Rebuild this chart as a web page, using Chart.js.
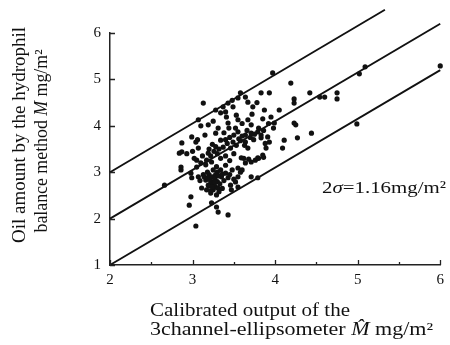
<!DOCTYPE html>
<html>
<head>
<meta charset="utf-8">
<script src="https://cdn.jsdelivr.net/npm/chart.js@4.4.1/dist/chart.umd.min.js"></script>
<style>
  html, body { margin: 0; padding: 0; background: #fff; }
</style>
</head>
<body>
<canvas id="chart" width="450" height="345"></canvas>
<script>
// measured points (calibrated output, hydrophil balance)
const pointX = [3.97, 4.19, 3.83, 3.93, 3.58, 3.64, 3.13, 3.67, 3.73, 3.43, 3.49, 3.37, 3.28, 3.34, 3.07, 3.87, 4.05, 4.23, 3.53, 3.55,
  3.41, 3.43, 3.67, 3.71, 3.95, 3.99, 4.23, 4.27, 4.11, 4.09, 3.19, 3.31, 2.99, 3.04, 2.87, 2.87, 3.07, 3.28, 3.34, 3.37,
  3.55, 3.64, 3.71, 3.79, 3.83, 3.91, 3.93, 3.49, 3.46, 3.64, 3.67, 3.89, 3.85, 3.79, 3.59, 3.64, 3.71, 3.76, 3.55, 3.58,
  3.19, 3.17, 3.16, 3.23, 3.05, 3.05, 2.86, 2.86, 2.98, 2.99, 3.07, 3.16, 3.19, 3.23, 3.28, 3.25, 3.31, 3.17, 3.11, 3.22,
  3.29, 3.40, 3.43, 3.46, 3.47, 3.52, 3.55, 3.71, 3.79, 2.66, 2.98, 2.96, 3.23, 3.29, 3.31, 3.43, 3.04, 2.84,
  4.23, 4.42, 4.54, 4.60, 4.75, 4.75, 5.09, 5.02, 6.00, 4.99, 4.44, 4.25,
  3.20, 3.24, 3.27, 3.30, 3.33, 3.22, 3.26, 3.20, 3.35, 3.38, 3.30, 3.25, 3.18, 3.34, 3.28, 3.22, 3.36, 3.32,
  3.22, 3.26, 3.28, 3.24, 3.30, 3.20, 3.34, 3.32,
  3.45, 3.50, 3.56, 3.60, 3.66, 3.70, 3.75, 3.80, 3.86, 3.40, 3.38, 3.44, 3.52,
  3.40, 3.45, 3.50, 3.62, 3.68, 3.80, 3.86,
  3.45, 3.50, 3.55, 3.48, 3.40, 3.60, 3.12, 3.10, 3.13, 3.02, 3.06, 3.15, 3.10, 3.25, 3.40, 3.48, 3.55, 3.78, 3.85, 3.92,
  3.98, 3.60, 3.72,
  3.21, 3.27, 3.24, 3.31, 3.36, 3.18, 3.29, 3.42, 3.58, 3.63, 3.74, 3.83, 3.88, 3.53, 2.93, 3.00, 3.09, 3.14];
const pointY = [5.14, 4.92, 4.71, 4.71, 4.71, 4.62, 4.49, 4.51, 4.41, 4.49, 4.41, 4.41, 4.34, 4.28, 4.13, 4.34, 4.34, 4.49, 4.23, 4.13,
  4.19, 4.06, 4.13, 4.02, 4.19, 4.06, 4.06, 3.74, 3.69, 3.52, 4.02, 3.95, 3.76, 3.65, 3.63, 3.44, 3.52, 3.84, 3.69, 3.54,
  3.87, 3.80, 3.84, 3.87, 3.80, 3.76, 3.65, 3.65, 3.52, 3.65, 3.52, 3.52, 3.37, 3.31, 3.31, 3.20, 3.22, 3.26, 3.09, 3.00,
  3.41, 3.26, 3.16, 3.22, 3.26, 3.11, 3.11, 3.05, 2.98, 2.88, 2.90, 2.83, 2.72, 2.77, 2.68, 2.62, 2.66, 2.62, 2.66, 2.55,
  2.51, 2.98, 2.88, 2.72, 2.62, 2.79, 2.68, 2.90, 2.88, 2.72, 2.47, 2.29, 2.34, 2.25, 2.14, 2.08, 1.84, 3.41,
  4.58, 4.71, 4.62, 4.62, 4.71, 4.58, 5.27, 5.12, 5.29, 4.04, 3.84, 4.02,
  2.95, 2.90, 2.85, 2.80, 2.75, 2.80, 2.74, 2.70, 2.90, 2.82, 3.00, 3.05, 3.00, 3.05, 2.95, 2.60, 2.65, 2.58,
  3.35, 3.45, 3.55, 3.60, 3.40, 3.50, 3.30, 3.50,
  3.75, 3.80, 3.72, 3.78, 3.90, 3.75, 3.82, 3.95, 3.90, 3.70, 3.85, 3.95, 3.95,
  3.35, 3.25, 3.40, 3.30, 3.28, 3.30, 3.32,
  2.95, 2.85, 2.90, 3.05, 3.15, 3.05, 3.35, 3.20, 2.95, 3.30, 3.70, 3.80, 4.00, 4.10, 4.30, 4.55, 4.60, 4.50, 4.15, 4.05,
  3.95, 4.05, 4.25,
  2.86, 2.78, 2.68, 2.92, 2.96, 2.88, 3.12, 3.62, 3.68, 3.58, 3.70, 3.74, 3.62, 3.58, 3.40, 3.45, 2.82, 2.90];

// regression line and the two 2-sigma bounds
const upperLineX = [2, 5.33];
const upperLineY = [3, 6.5];
const middleLineX = [2, 6];
const middleLineY = [2, 6.2];
const lowerLineX = [2, 6];
const lowerLineY = [1, 5.2];

const xMajorTicks = [2, 3, 4, 5, 6];
const xMinorTicks = [2.5, 3.5, 4.5, 5.5];
const yTicks = [1, 2, 3, 4, 5, 6];

const SERIF = '"Liberation Serif", "DejaVu Serif", serif';

const toXY = (xs, ys) => xs.map((x, i) => ({ x: x, y: ys[i] }));

const lineDataset = (xs, ys) => ({
    type: 'line',
    data: toXY(xs, ys),
    borderColor: '#111',
    borderWidth: 1.9,
    pointRadius: 0,
    fill: false,
    clip: false
});

// draw a line of text made of runs with different styles, stretched to a width
const drawRuns = (ctx, x, y, runs, size, align, width) => {
    let total = 0;
    runs.forEach(r => {
        ctx.font = (r.italic ? 'italic ' : '') + size + 'px ' + SERIF;
        r.w = ctx.measureText(r.t).width;
        total += r.w;
    });
    const k = width ? width / total : 1;
    ctx.save();
    ctx.translate(align === 'center' ? x - total * k / 2 : x, y);
    ctx.scale(k, 1);
    let cx = 0;
    runs.forEach(r => {
        ctx.font = (r.italic ? 'italic ' : '') + size + 'px ' + SERIF;
        ctx.textAlign = 'left';
        ctx.fillText(r.t, cx, 0);
        cx += r.w;
    });
    ctx.restore();
};

const extrasPlugin = {
    id: 'extras',
    afterDraw(chart) {
        const ctx = chart.ctx;
        const xs = chart.scales.x;
        const ys = chart.scales.y;
        const bottom = chart.chartArea.bottom;
        const left = chart.chartArea.left;
        ctx.save();
        ctx.strokeStyle = '#222';
        ctx.lineWidth = 1.3;

        // tick marks point inward
        ctx.beginPath();
        xMajorTicks.forEach(v => {
            const px = Math.round(xs.getPixelForValue(v)) + 0.5;
            ctx.moveTo(px, bottom);
            ctx.lineTo(px, bottom - 5);
        });
        xMinorTicks.forEach(v => {
            const px = Math.round(xs.getPixelForValue(v)) + 0.5;
            ctx.moveTo(px, bottom);
            ctx.lineTo(px, bottom - 3);
        });
        yTicks.forEach(v => {
            const py = Math.round(ys.getPixelForValue(v)) + 0.5;
            ctx.moveTo(left, py);
            ctx.lineTo(left + 5, py);
        });
        ctx.stroke();

        ctx.fillStyle = '#111';
        ctx.textBaseline = 'middle';

        // annotation
        drawRuns(ctx, 322, 189, [
            { t: '2' }, { t: 'σ', italic: true }, { t: '=1.16mg/m²' }
        ], 17, 'left', 124);

        // x axis title
        drawRuns(ctx, 150, 311, [{ t: 'Calibrated output of the' }], 18, 'left', 200);
        drawRuns(ctx, 150, 330, [
            { t: '3channel-ellipsometer ' }, { t: 'M\u0302', italic: true }, { t: ' mg/m²' }
        ], 18, 'left', 283);

        // y axis title
        ctx.save();
        ctx.translate(20, 135);
        ctx.rotate(-Math.PI / 2);
        drawRuns(ctx, 0, 0, [{ t: 'Oil amount by the hydrophil' }], 18, 'center', 216);
        ctx.restore();
        ctx.save();
        ctx.translate(42, 141);
        ctx.rotate(-Math.PI / 2);
        drawRuns(ctx, 0, 0, [
            { t: 'balance method ' }, { t: 'M', italic: true }, { t: ' mg/m²' }
        ], 18, 'center', 183);
        ctx.restore();

        ctx.restore();
    }
};

new Chart(document.getElementById('chart'), {
    type: 'scatter',
    data: {
        datasets: [
            {
                data: toXY(pointX, pointY),
                backgroundColor: '#111',
                borderWidth: 0,
                pointRadius: 2.6,
                pointStyle: 'circle',
                clip: false
            },
            lineDataset(upperLineX, upperLineY),
            lineDataset(middleLineX, middleLineY),
            lineDataset(lowerLineX, lowerLineY)
        ]
    },
    options: {
        responsive: false,
        animation: false,
        layout: { padding: { top: 33, right: 5, left: 0, bottom: 0 } },
        plugins: {
            legend: { display: false },
            tooltip: { enabled: false }
        },
        scales: {
            x: {
                type: 'linear',
                min: 2,
                max: 6,
                afterFit: s => { s.height = 80; },
                grid: { display: false, drawTicks: false },
                border: { display: true, color: '#222', width: 1.5 },
                ticks: {
                    stepSize: 1,
                    padding: 6,
                    color: '#111',
                    font: { family: SERIF, size: 15 }
                }
            },
            y: {
                type: 'linear',
                min: 1,
                max: 6,
                afterFit: s => { s.width = 110; },
                grid: { display: false, drawTicks: false },
                border: { display: true, color: '#222', width: 1.5 },
                ticks: {
                    stepSize: 1,
                    padding: 9,
                    color: '#111',
                    font: { family: SERIF, size: 15 }
                }
            }
        }
    },
    plugins: [extrasPlugin]
});
</script>
</body>
</html>
